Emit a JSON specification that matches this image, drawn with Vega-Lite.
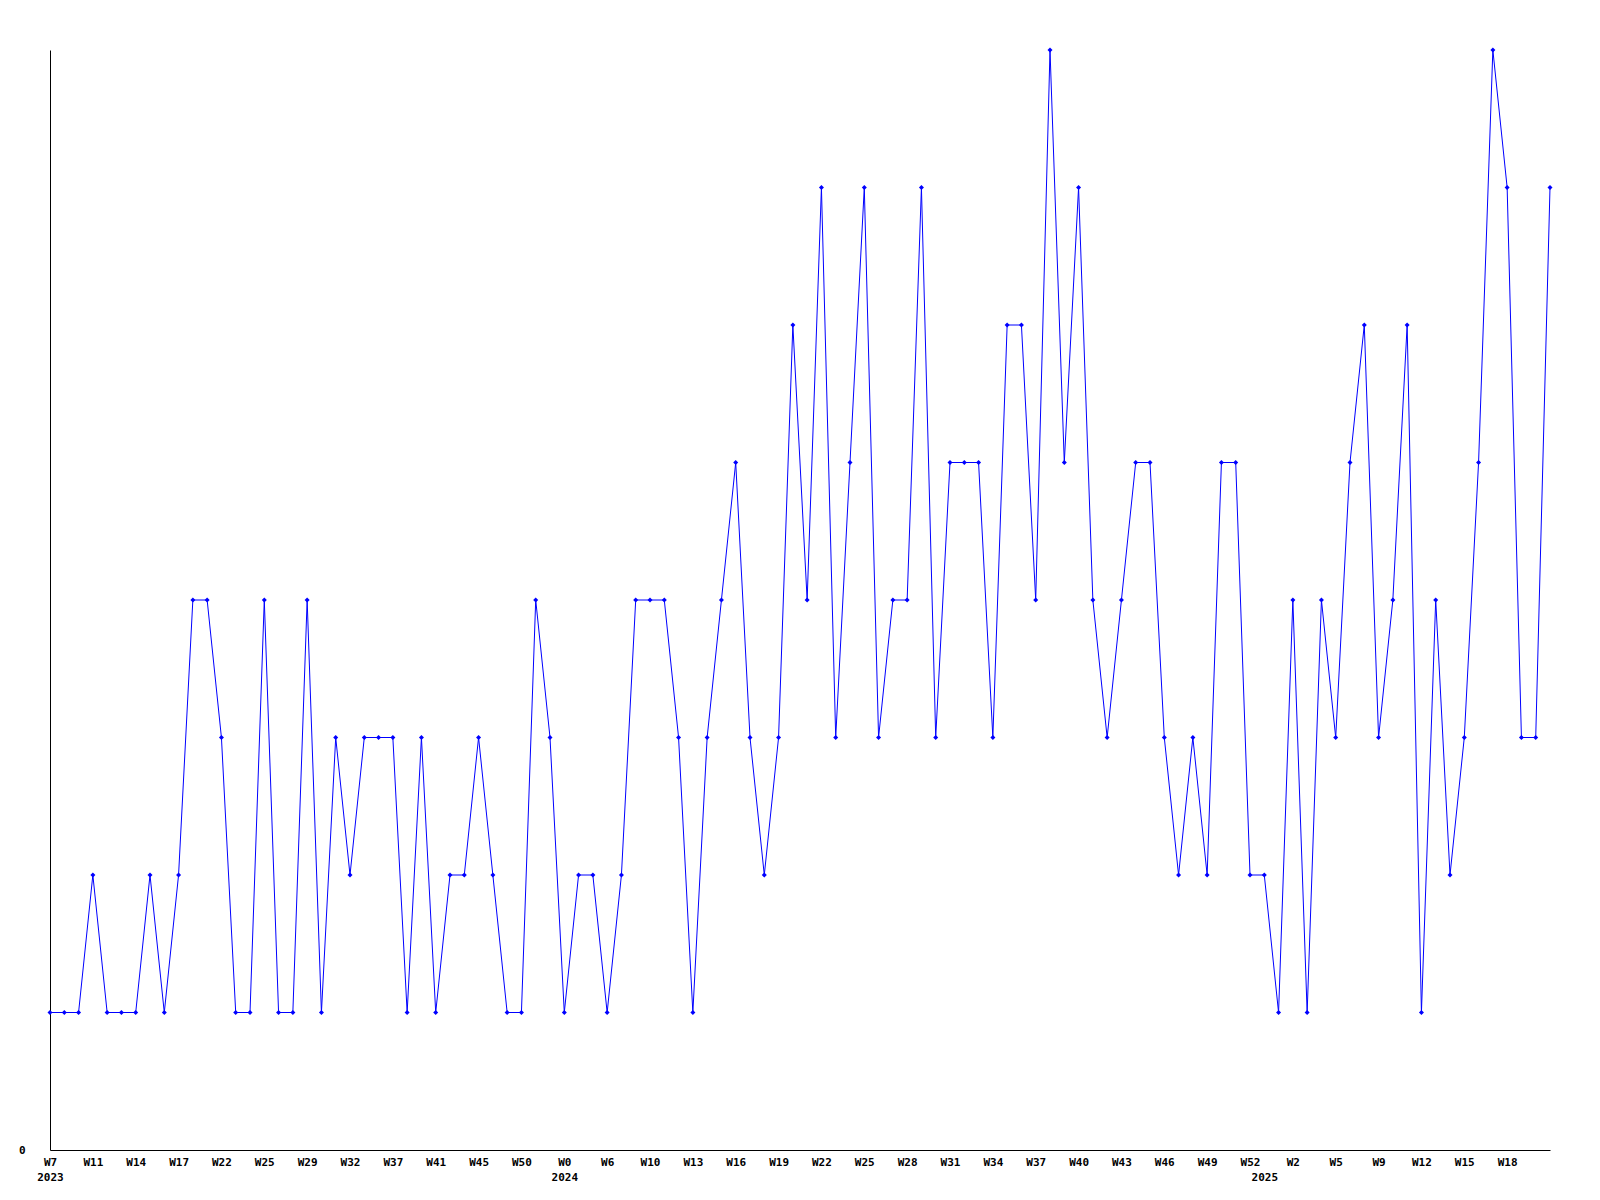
{
  "$schema": "https://vega.github.io/schema/vega-lite/v6.json",
  "width": 1500,
  "height": 1100,
  "autosize": "none",
  "padding": {"left": 50, "top": 50, "right": 50, "bottom": 50},
  "background": "white",
  "config": {
    "view": {"stroke": null},
    "axis": {
      "labelFont": "DejaVu Sans Mono",
      "labelFontWeight": "bold",
      "labelFontSize": 11,
      "labelColor": "black",
      "domainColor": "black",
      "domainWidth": 1,
      "ticks": false,
      "tickSize": 0,
      "grid": false,
      "title": null
    }
  },
  "data": {
    "values": [
      {"period": "2023 W7", "count": 1}, {"period": "2023 W8", "count": 1}, {"period": "2023 W9", "count": 1},
      {"period": "2023 W11", "count": 2}, {"period": "2023 W12", "count": 1}, {"period": "2023 W13", "count": 1},
      {"period": "2023 W14", "count": 1}, {"period": "2023 W15", "count": 2}, {"period": "2023 W16", "count": 1},
      {"period": "2023 W17", "count": 2}, {"period": "2023 W19", "count": 4}, {"period": "2023 W20", "count": 4},
      {"period": "2023 W22", "count": 3}, {"period": "2023 W23", "count": 1}, {"period": "2023 W24", "count": 1},
      {"period": "2023 W25", "count": 4}, {"period": "2023 W26", "count": 1}, {"period": "2023 W27", "count": 1},
      {"period": "2023 W29", "count": 4}, {"period": "2023 W30", "count": 1}, {"period": "2023 W31", "count": 3},
      {"period": "2023 W32", "count": 2}, {"period": "2023 W34", "count": 3}, {"period": "2023 W35", "count": 3},
      {"period": "2023 W37", "count": 3}, {"period": "2023 W38", "count": 1}, {"period": "2023 W39", "count": 3},
      {"period": "2023 W41", "count": 1}, {"period": "2023 W42", "count": 2}, {"period": "2023 W43", "count": 2},
      {"period": "2023 W45", "count": 3}, {"period": "2023 W46", "count": 2}, {"period": "2023 W48", "count": 1},
      {"period": "2023 W50", "count": 1}, {"period": "2023 W51", "count": 4}, {"period": "2023 W52", "count": 3},
      {"period": "2024 W0", "count": 1}, {"period": "2024 W2", "count": 2}, {"period": "2024 W4", "count": 2},
      {"period": "2024 W6", "count": 1}, {"period": "2024 W7", "count": 2}, {"period": "2024 W8", "count": 4},
      {"period": "2024 W10", "count": 4}, {"period": "2024 W11", "count": 4}, {"period": "2024 W12", "count": 3},
      {"period": "2024 W13", "count": 1}, {"period": "2024 W14", "count": 3}, {"period": "2024 W15", "count": 4},
      {"period": "2024 W16", "count": 5}, {"period": "2024 W17", "count": 3}, {"period": "2024 W18", "count": 2},
      {"period": "2024 W19", "count": 3}, {"period": "2024 W20", "count": 6}, {"period": "2024 W21", "count": 4},
      {"period": "2024 W22", "count": 7}, {"period": "2024 W23", "count": 3}, {"period": "2024 W24", "count": 5},
      {"period": "2024 W25", "count": 7}, {"period": "2024 W26", "count": 3}, {"period": "2024 W27", "count": 4},
      {"period": "2024 W28", "count": 4}, {"period": "2024 W29", "count": 7}, {"period": "2024 W30", "count": 3},
      {"period": "2024 W31", "count": 5}, {"period": "2024 W32", "count": 5}, {"period": "2024 W33", "count": 5},
      {"period": "2024 W34", "count": 3}, {"period": "2024 W35", "count": 6}, {"period": "2024 W36", "count": 6},
      {"period": "2024 W37", "count": 4}, {"period": "2024 W38", "count": 8}, {"period": "2024 W39", "count": 5},
      {"period": "2024 W40", "count": 7}, {"period": "2024 W41", "count": 4}, {"period": "2024 W42", "count": 3},
      {"period": "2024 W43", "count": 4}, {"period": "2024 W44", "count": 5}, {"period": "2024 W45", "count": 5},
      {"period": "2024 W46", "count": 3}, {"period": "2024 W47", "count": 2}, {"period": "2024 W48", "count": 3},
      {"period": "2024 W49", "count": 2}, {"period": "2024 W50", "count": 5}, {"period": "2024 W51", "count": 5},
      {"period": "2024 W52", "count": 2},
      {"period": "2025 W0", "count": 2}, {"period": "2025 W1", "count": 1}, {"period": "2025 W2", "count": 4},
      {"period": "2025 W3", "count": 1}, {"period": "2025 W4", "count": 4}, {"period": "2025 W5", "count": 3},
      {"period": "2025 W6", "count": 5}, {"period": "2025 W7", "count": 6}, {"period": "2025 W9", "count": 3},
      {"period": "2025 W10", "count": 4}, {"period": "2025 W11", "count": 6}, {"period": "2025 W12", "count": 1},
      {"period": "2025 W13", "count": 4}, {"period": "2025 W14", "count": 2}, {"period": "2025 W15", "count": 3},
      {"period": "2025 W16", "count": 5}, {"period": "2025 W17", "count": 8}, {"period": "2025 W18", "count": 7},
      {"period": "2025 W19", "count": 3}, {"period": "2025 W20", "count": 3}, {"period": "2025 W21", "count": 7}
    ]
  },
  "encoding": {
    "x": {
      "field": "period",
      "type": "ordinal",
      "sort": null,
      "scale": {"type": "point", "padding": 0},
      "axis": {
        "values": ["2023 W7", "2023 W11", "2023 W14", "2023 W17", "2023 W22", "2023 W25", "2023 W29", "2023 W32", "2023 W37", "2023 W41", "2023 W45", "2023 W50",
                   "2024 W0", "2024 W6", "2024 W10", "2024 W13", "2024 W16", "2024 W19", "2024 W22", "2024 W25", "2024 W28", "2024 W31", "2024 W34", "2024 W37", "2024 W40", "2024 W43", "2024 W46", "2024 W49", "2024 W52",
                   "2025 W0", "2025 W2", "2025 W5", "2025 W9", "2025 W12", "2025 W15", "2025 W18"],
        "labelExpr": "indexof(['2023 W7','2024 W0'], datum.value) >= 0 ? [split(datum.value,' ')[1], split(datum.value,' ')[0]] : (datum.value == '2025 W0' ? ['\u00a0', split(datum.value,' ')[0]] : split(datum.value,' ')[1])",
        "labelAngle": 0,
        "labelPadding": 6,
        "labelLineHeight": 15,
        "labelOverlap": false,
        "labelBound": false,
        "labelFlush": false
      }
    },
    "y": {
      "field": "count",
      "type": "quantitative",
      "scale": {"domain": [0, 8], "nice": false, "zero": true},
      "axis": {"values": [0], "labelPadding": 25}
    }
  },
  "layer": [
    {"mark": {"type": "line", "color": "#0000ff", "strokeWidth": 1}},
    {"mark": {"type": "point", "shape": "diamond", "filled": true, "color": "#0000ff", "size": 25, "opacity": 1}}
  ]
}
